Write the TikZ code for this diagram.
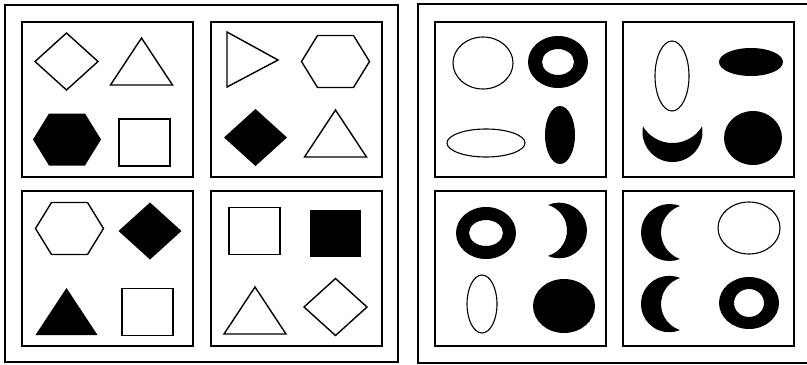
\documentclass[tikz,border=0pt]{standalone}
\usepackage{tikz}
\newcommand\ring[5]{\fill[even odd rule] (#1) ellipse [x radius=#2,y radius=#3] (#1) ellipse [x radius=#4,y radius=#5];}
\tikzset{
  hexa/.pic={\path[pic actions] (-34,0) -- (-18,-26) -- (18,-26) -- (34,0) -- (18,26) -- (-18,26) -- cycle;},
  rhomb/.pic={\path[pic actions] (-31.5,0) -- (0,-28.5) -- (31.5,0) -- (0,28.5) -- cycle;},
  tri/.pic={\path[pic actions] (-31,0) -- (0,-47) -- (31,0) -- cycle;},
  sq/.pic={\path[pic actions] (-25.5,-23.5) rectangle (25.5,23.5);}
}
\begin{document}
\begin{tikzpicture}[x=0.5pt,y=-0.5pt,
  frame/.style={draw=black,line width=1.1pt},
  panel/.style={draw=black,line width=1pt},
  hollow/.style={draw=black,line width=0.7pt,fill=white,line join=miter},
  solid/.style={fill=black},
  thin/.style={draw=black,line width=0.55pt}]
\useasboundingbox (0,0) rectangle (807,364);
% outer frames
\draw[frame] (5,5) rectangle (398,362);
\draw[frame] (418,4) rectangle (830,363);
% inner boxes
\foreach \x in {22,211,435,623}
  \foreach \y in {22,191}
    \draw[panel] (\x,\y) rectangle ++(171,155);
% left set, top row
\pic[hollow] at (66.5,61.5) {rhomb};
\pic[hollow] at (141.5,85) {tri};
\pic[solid] at (67,139.5) {hexa};
\pic[hollow] at (144.5,142.5) {sq};
\draw[hollow] (227,32) -- (278,60) -- (227,87) -- cycle;
\pic[hollow] at (335.5,61.5) {hexa};
\pic[solid] at (255.5,137.5) {rhomb};
\pic[hollow] at (335.5,157) {tri};
% left set, bottom row
\pic[hollow] at (69.5,228.5) {hexa};
\pic[solid] at (150,231) {rhomb};
\pic[solid] at (66.5,335) {tri};
\pic[hollow] at (147.5,312) {sq};
\pic[hollow] at (254.5,231) {sq};
\pic[solid] at (335,233.5) {sq};
\pic[hollow] at (255,334) {tri};
\pic[hollow] at (335.5,307) {rhomb};
% right set, top row
\draw[thin] (483,63) ellipse [x radius=30,y radius=26];
\ring{558,62}{30}{26}{16}{13}
\draw[thin] (486,143) ellipse [x radius=39,y radius=14];
\fill (560,135) ellipse [x radius=15,y radius=29];
\draw[thin] (672,76) ellipse [x radius=17,y radius=35];
\fill (751,62) ellipse [x radius=32,y radius=14];
\fill (643,126.5) arc [start angle=190.6,end angle=-10.6,radius=30]
  arc [start angle=31.5,end angle=148.5,radius=34.6] -- cycle;
\fill (753,138) ellipse [x radius=29,y radius=27];
% right set, bottom row
\ring{486,233}{30}{26}{17}{13}
\fill (548,205) arc [start angle=-113.7,end angle=113.7,radius=27.8]
  arc [start angle=73.4,end angle=-73.4,radius=26.6] -- cycle;
\draw[thin] (482,304) ellipse [x radius=15,y radius=29];
\fill (564,306) ellipse [x radius=31,y radius=27];
\fill (680,206) arc [start angle=-68.4,end angle=-291.6,radius=28.5]
  arc [start angle=108.8,end angle=251.2,radius=28] -- cycle;
\draw[thin] (749,228) ellipse [x radius=31,y radius=26];
\fill (680,278) arc [start angle=-67.4,end angle=-292.6,radius=28.2]
  arc [start angle=107.7,end angle=252.3,radius=27.3] -- cycle;
\ring{749,303}{30}{26}{15}{14}
\end{tikzpicture}
\end{document}
